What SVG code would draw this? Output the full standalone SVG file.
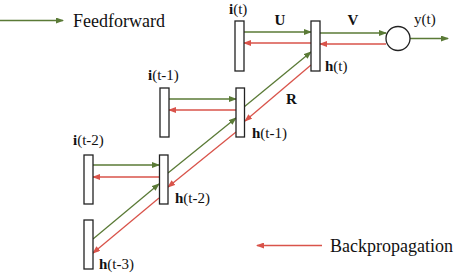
<svg xmlns="http://www.w3.org/2000/svg" width="455" height="276" viewBox="0 0 455 276">
<defs>
<marker id="ag" markerWidth="8" markerHeight="6" refX="7" refY="3" orient="auto" markerUnits="userSpaceOnUse"><path d="M0,0 L8,3 L0,6 Z" fill="#5a7a36"/></marker>
<marker id="ar" markerWidth="8" markerHeight="6" refX="7" refY="3" orient="auto" markerUnits="userSpaceOnUse"><path d="M0,0 L8,3 L0,6 Z" fill="#d9534a"/></marker>
<style>
.box{fill:#fff;stroke:#222;stroke-width:1.3}
.g{stroke:#5a7a36;stroke-width:1.3;fill:none;marker-end:url(#ag)}
.r{stroke:#d9534a;stroke-width:1.3;fill:none;marker-end:url(#ar)}
text{font-family:"Liberation Serif","Times New Roman",serif;fill:#111}
.lab{font-size:15px}
.leg{font-size:18px}
.b{font-weight:bold}
</style>
</defs>
<rect width="455" height="276" fill="#fff"/>
<g id="connectors">
<line class="g" x1="244" y1="32" x2="311" y2="32"/>
<line class="r" x1="311" y1="43" x2="244" y2="43"/>
<line class="g" x1="320" y1="33" x2="386" y2="33"/>
<line class="r" x1="386" y1="44" x2="320" y2="44"/>
<line class="g" x1="410" y1="38.5" x2="448" y2="38.5"/>
<line class="g" x1="169" y1="99" x2="236" y2="99"/>
<line class="r" x1="236" y1="110" x2="169" y2="110"/>
<line class="g" x1="93" y1="165" x2="159" y2="165"/>
<line class="r" x1="159" y1="177" x2="93" y2="177"/>
<line class="g" x1="93" y1="239" x2="159" y2="184"/>
<line class="g" x1="168" y1="173" x2="236" y2="118"/>
<line class="g" x1="244" y1="107" x2="311" y2="52"/>
<line class="r" x1="311" y1="65" x2="245" y2="121"/>
<line class="r" x1="236" y1="132" x2="168" y2="187"/>
<line class="r" x1="159" y1="198" x2="93" y2="253"/>
<line class="g" x1="0" y1="20.5" x2="63" y2="20.5"/>
<line class="r" x1="322" y1="245.5" x2="257" y2="245.5"/>
</g>
<g id="i_t"><rect class="box" x="235" y="21" width="9" height="50"/><text class="lab" x="229" y="14"><tspan class="b">i</tspan>(t)</text></g>
<g id="h_t"><rect class="box" x="311" y="21" width="9" height="50"/><text class="lab" x="325" y="71"><tspan class="b">h</tspan>(t)</text></g>
<g id="y_t"><circle cx="398" cy="38.5" r="12" fill="#fff" stroke="#222" stroke-width="1.3"/><text class="lab" x="414" y="24">y(t)</text></g>
<g id="i_t1"><rect class="box" x="160" y="88" width="9" height="49"/><text class="lab" x="148" y="80"><tspan class="b">i</tspan>(t-1)</text></g>
<g id="h_t1"><rect class="box" x="236" y="88" width="8.5" height="49"/><text class="lab" x="252" y="138"><tspan class="b">h</tspan>(t-1)</text></g>
<g id="i_t2"><rect class="box" x="84" y="155" width="9" height="49"/><text class="lab" x="73" y="145"><tspan class="b">i</tspan>(t-2)</text></g>
<g id="h_t2"><rect class="box" x="159.5" y="155" width="8.5" height="49"/><text class="lab" x="175" y="203"><tspan class="b">h</tspan>(t-2)</text></g>
<g id="h_t3"><rect class="box" x="84" y="220" width="9" height="49"/><text class="lab" x="99" y="269"><tspan class="b">h</tspan>(t-3)</text></g>
<g id="labels">
<text class="lab b" x="280" y="25" text-anchor="middle">U</text>
<text class="lab b" x="353" y="25" text-anchor="middle">V</text>
<text class="lab b" x="291.5" y="104" text-anchor="middle">R</text>
<text class="leg" x="73" y="27">Feedforward</text>
<text class="leg" x="330" y="252">Backpropagation</text>
</g>
</svg>
